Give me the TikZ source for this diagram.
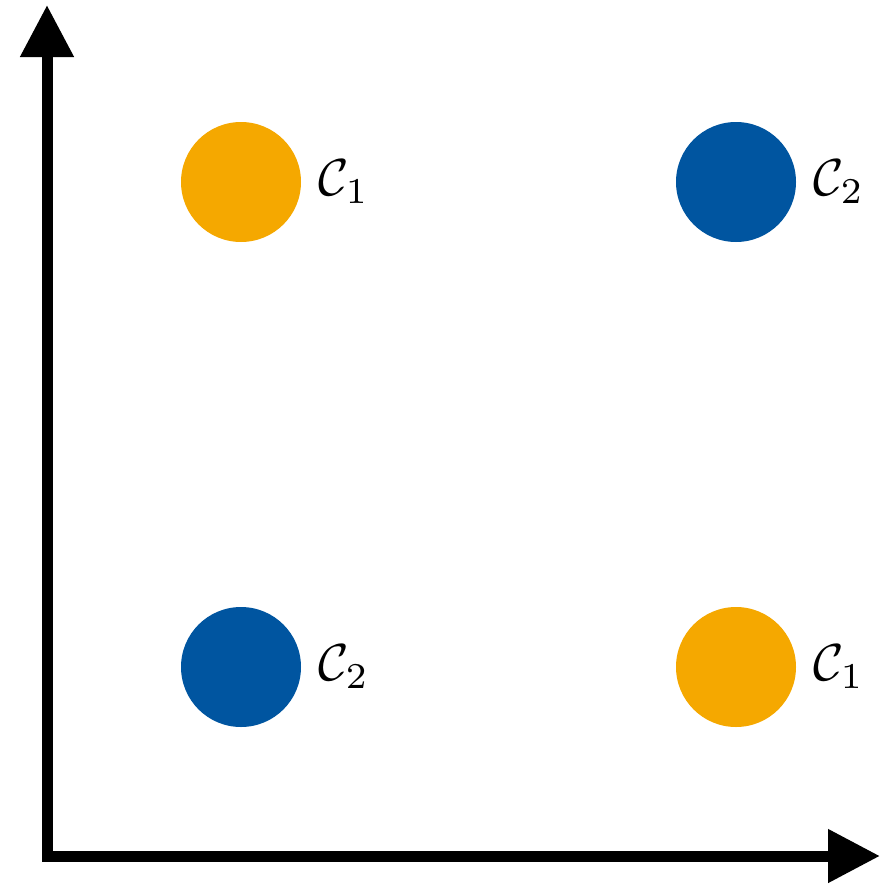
\documentclass[tikz,border=0pt]{standalone}
\usetikzlibrary{arrows.meta, positioning}
\definecolor{corange}{HTML}{F5A800}
\definecolor{cblue}{HTML}{0055A0}
\tikzset{
  axis/.style={line width=5.5pt, line join=miter, {Triangle[length=26pt, width=25.5pt]}-{Triangle[length=26pt, width=25.5pt]}},
  dot/.style={circle, fill=#1, minimum size=60pt, inner sep=0pt},
  lab/.style={inner sep=0pt, scale=2.6, transform shape, right=8pt of #1},
}
\begin{document}
\begin{tikzpicture}[x=0.5pt, y=-0.5pt]
  \useasboundingbox (0,0) rectangle (881,884);
  % axes
  \draw[axis] (47,5) -- (47,856) -- (880,856);
  % the four classes
  \node[dot=corange] (tl) at (241,182) {};
  \node[dot=cblue] (tr) at (736,182) {};
  \node[dot=cblue] (bl) at (241,667) {};
  \node[dot=corange] (br) at (736,667) {};
  \node[lab=tl] (ltl) {$\mathcal{C}_1$};
  \node[lab=tr] (ltr) {$\mathcal{C}_2$};
  \node[lab=bl] (lbl) {$\mathcal{C}_2$};
  \node[lab=br] (lbr) {$\mathcal{C}_1$};
\end{tikzpicture}
\end{document}
